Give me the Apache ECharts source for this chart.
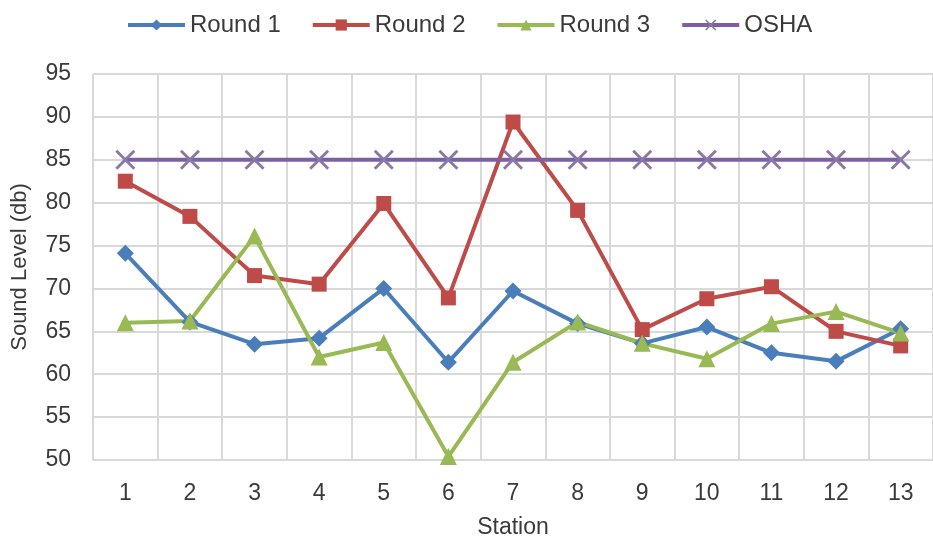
<!DOCTYPE html>
<html>
<head>
<meta charset="utf-8">
<script src="https://cdn.jsdelivr.net/npm/echarts@6/dist/echarts.min.js"></script>
<style>html,body{margin:0;padding:0;background:#fff}#c{width:933px;height:544px}</style>
</head>
<body>
<div id="c"></div>
<script>
const stations = ['1','2','3','4','5','6','7','8','9','10','11','12','13'];
const round1 = [74.1, 66.1, 63.5, 64.2, 70.0, 61.4, 69.7, 65.9, 63.6, 65.5, 62.5, 61.5, 65.3];
const round2 = [82.5, 78.4, 71.5, 70.5, 79.9, 68.9, 89.4, 79.1, 65.2, 68.8, 70.2, 65.0, 63.3];
const round3 = [66.0, 66.2, 76.1, 62.0, 63.7, 50.4, 61.4, 66.1, 63.6, 61.8, 65.9, 67.3, 64.8];
const osha   = [85, 85, 85, 85, 85, 85, 85, 85, 85, 85, 85, 85, 85];
const yTicks = { min: 50, max: 95, interval: 5 };

const FONT = 'Liberation Sans, Arial, sans-serif';
const TXT = '#3a3a3a';
const xPath = 'path://M0,1L1,0L10,9L9,10Z M9,0L10,1L1,10L0,9Z';

function mk(name, data, color, symbol, size, mcolor) {
  return {
    name, type: 'line', data,
    symbol, symbolSize: size,
    lineStyle: { color, width: 4 },
    itemStyle: { color: mcolor || color },
    emphasis: { disabled: true },
    animation: false
  };
}

const chart = echarts.init(document.getElementById('c'));
chart.setOption({
  animation: false,
  textStyle: { fontFamily: FONT },
  legend: {
    top: 8, left: 121,
    itemWidth: 57, itemHeight: 14, itemGap: 30,
    lineStyle: { width: 4 },
    textStyle: { fontSize: 24, color: TXT, fontFamily: FONT },
    data: ['Round 1','Round 2','Round 3','OSHA']
  },
  grid: { left: 93, right: 0, top: 74, bottom: 78 },
  xAxis: {
    type: 'category', data: stations, boundaryGap: true,
    name: 'Station', nameLocation: 'middle', nameGap: 56,
    nameTextStyle: { fontSize: 23, color: TXT, fontFamily: FONT },
    axisLine: { lineStyle: { color: '#d9d9d9', width: 2 } },
    axisTick: { show: false },
    axisLabel: { fontSize: 23, color: TXT, margin: 22, fontFamily: FONT },
    splitLine: { show: true, lineStyle: { color: '#d9d9d9', width: 2 } }
  },
  yAxis: {
    type: 'value', min: yTicks.min, max: yTicks.max, interval: yTicks.interval,
    name: 'Sound Level (db)', nameLocation: 'middle', nameGap: 62,
    nameTextStyle: { fontSize: 22, color: TXT, fontFamily: FONT },
    axisLine: { show: false }, axisTick: { show: false },
    axisLabel: { fontSize: 23, color: TXT, margin: 22, fontFamily: FONT },
    splitLine: { show: true, lineStyle: { color: '#d9d9d9', width: 2 } }
  },
  series: [
    mk('Round 1', round1, '#4a7ebb', 'diamond', 17),
    mk('Round 2', round2, '#be4b48', 'rect', 15),
    mk('Round 3', round3, '#98b954', 'triangle', 17),
    mk('OSHA', osha, '#7d60a0', xPath, 20, '#8a76a8')
  ]
});
</script>
</body>
</html>
